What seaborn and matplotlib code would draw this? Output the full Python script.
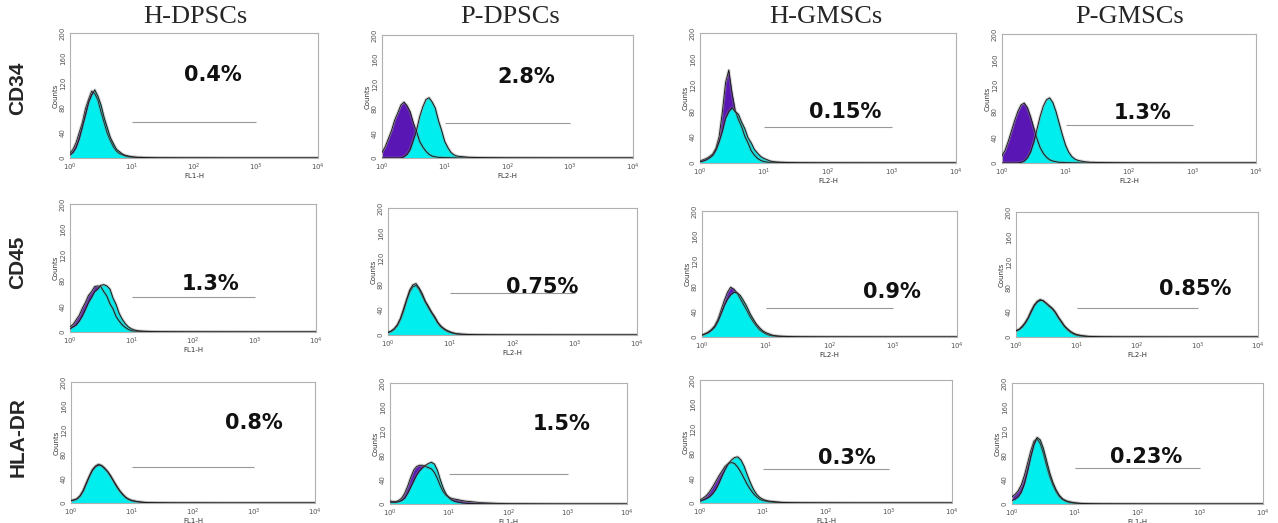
import numpy as np
import matplotlib
matplotlib.use("Agg")
import matplotlib.pyplot as plt
import seaborn as sns

# log10 fluorescence channel positions shared by every histogram
log_fl = [0.00, 0.05, 0.10, 0.15, 0.20, 0.25, 0.30, 0.35, 0.40, 0.45,
          0.50, 0.55, 0.60, 0.65, 0.70, 0.75, 0.80, 0.85, 0.90, 0.95,
          1.00, 1.05, 1.10, 1.15, 1.20, 1.25, 1.30, 1.35, 1.40, 1.45,
          1.50, 1.60, 1.80, 2.00, 2.50, 3.00, 4.00]

cell_types = ["H-DPSCs", "P-DPSCs", "H-GMSCs", "P-GMSCs"]
markers = ["CD34", "CD45", "HLA-DR"]
percent_labels = ["0.4%", "2.8%", "0.15%", "1.3%",
                  "1.3%", "0.75%", "0.9%", "0.85%",
                  "0.8%", "1.5%", "0.3%", "0.23%"]
channel_labels = ["FL1-H", "FL2-H", "FL2-H", "FL2-H",
                  "FL1-H", "FL2-H", "FL2-H", "FL2-H",
                  "FL1-H", "FL1-H", "FL1-H", "FL1-H"]
gate_counts = [58, 57, 55, 59,
               55, 66, 46, 46,
               60, 50, 55, 60]
gate_range = [10, 1000]

# CD34 (isotype control = purple, marker = cyan)
cd34_h_dpsc_iso = [8, 14, 25, 41, 57, 79, 94, 107, 103, 93, 74, 57, 40, 28, 18, 11, 7, 5, 3, 2,
                   1.5, 1, 1, 0.8, 0.6, 0.5, 0.4, 0.3, 0.3, 0.2, 0.2, 0.2, 0.1, 0.1, 0, 0, 0]
cd34_h_dpsc = [5, 9, 17, 31, 50, 69, 89, 101, 109, 99, 85, 65, 49, 33, 23, 14, 10, 6, 4, 3,
               2, 1.5, 1, 1, 0.8, 0.6, 0.5, 0.4, 0.3, 0.3, 0.2, 0.2, 0.1, 0.1, 0, 0, 0]
cd34_p_dpsc_iso = [9, 18, 31, 44, 61, 73, 86, 91, 85, 75, 57, 43, 27, 18, 11, 6, 3, 2, 1, 1,
                   0.5, 0.5, 0.3, 0.3, 0.2, 0.2, 0.1, 0.1, 0.1, 0.1, 0.1, 0, 0, 0, 0, 0, 0]
cd34_p_dpsc = [0, 0, 0, 0, 0, 0, 0, 2, 6, 14, 29, 45, 67, 83, 95, 98, 91, 81, 61, 45,
               27, 17, 9, 5, 3, 2.5, 2, 1.5, 1, 1, 0.8, 0.6, 0.4, 0.2, 0.1, 0, 0]
cd34_h_gmsc_iso = [3, 5, 7, 10, 14, 23, 41, 79, 124, 143, 108, 81, 67, 56, 41, 31, 19, 12, 7, 4,
                   2, 1.5, 1, 1, 0.8, 0.6, 0.5, 0.4, 0.3, 0.3, 0.2, 0.2, 0.1, 0.1, 0, 0, 0]
cd34_h_gmsc = [2, 3, 5, 8, 12, 20, 33, 49, 69, 79, 85, 79, 75, 63, 53, 39, 31, 21, 15, 10,
               7, 5, 3, 2, 1.5, 1.2, 1, 0.8, 0.6, 0.5, 0.4, 0.3, 0.2, 0.1, 0.1, 0, 0]
cd34_p_gmsc_iso = [11, 20, 34, 50, 66, 80, 90, 93, 86, 72, 55, 38, 24, 15, 9, 5, 3, 2, 1, 1,
                   0.5, 0.5, 0.3, 0.3, 0.2, 0.2, 0.1, 0.1, 0.1, 0.1, 0.1, 0, 0, 0, 0, 0, 0]
cd34_p_gmsc = [0, 0, 0, 0, 0, 0, 1, 3, 8, 17, 32, 52, 72, 88, 98, 101, 94, 80, 62, 44,
               28, 17, 10, 6, 4, 3, 2, 1.5, 1, 1, 0.8, 0.6, 0.4, 0.2, 0.1, 0, 0]

# CD45
cd45_h_dpsc_iso = [8, 12, 19, 26, 37, 46, 57, 63, 71, 72, 71, 63, 56, 44, 36, 24, 17, 11, 7, 4,
                   2, 1.5, 1, 0.8, 0.6, 0.5, 0.4, 0.3, 0.3, 0.2, 0.2, 0.2, 0.1, 0.1, 0, 0, 0]
cd45_h_dpsc = [5, 8, 11, 17, 25, 35, 46, 54, 63, 67, 73, 74, 72, 67, 53, 43, 29, 20, 13, 8,
               5, 3, 2, 1.5, 1.2, 1, 0.8, 0.6, 0.5, 0.4, 0.4, 0.3, 0.2, 0.1, 0.1, 0, 0]
cd45_p_dpsc_iso = [4, 6, 9, 15, 25, 38, 55, 68, 76, 78, 72, 62, 52, 43, 35, 27, 19, 13, 9, 6,
                   4, 3, 2, 1.5, 1, 0.8, 0.6, 0.5, 0.4, 0.3, 0.3, 0.2, 0.1, 0.1, 0, 0, 0]
cd45_p_dpsc = [4, 6, 10, 16, 26, 41, 56, 71, 79, 81, 74, 65, 53, 45, 36, 29, 20, 14, 10, 7,
               5, 3, 2, 1.5, 1.2, 1, 0.8, 0.6, 0.5, 0.4, 0.4, 0.3, 0.2, 0.1, 0.1, 0, 0]
cd45_h_gmsc_iso = [3, 5, 8, 12, 18, 28, 43, 58, 71, 79, 76, 70, 61, 52, 43, 33, 25, 18, 12, 8,
                   5, 3, 2, 1.5, 1, 0.8, 0.6, 0.5, 0.4, 0.3, 0.3, 0.2, 0.1, 0.1, 0, 0, 0]
cd45_h_gmsc = [3, 5, 7, 11, 16, 25, 37, 50, 60, 67, 71, 70, 66, 58, 49, 38, 29, 21, 15, 10,
               7, 5, 3, 2, 1.5, 1.2, 1, 0.8, 0.6, 0.5, 0.4, 0.3, 0.2, 0.1, 0.1, 0, 0]
cd45_p_gmsc_iso = [10, 12, 17, 23, 31, 42, 51, 57, 60, 58, 54, 49, 45, 39, 31, 24, 17, 12, 8, 5,
                   3, 2, 1.5, 1, 0.8, 0.6, 0.5, 0.4, 0.3, 0.3, 0.2, 0.2, 0.1, 0.1, 0, 0, 0]
cd45_p_gmsc = [10, 12, 16, 22, 30, 40, 50, 56, 59, 58, 54, 50, 46, 40, 32, 25, 18, 13, 9, 6,
               4, 3, 2, 1.5, 1, 0.8, 0.6, 0.5, 0.4, 0.3, 0.3, 0.2, 0.1, 0.1, 0, 0, 0]

# HLA-DR
hla_h_dpsc_iso = [4, 5, 7, 12, 21, 33, 44, 55, 61, 64, 62, 58, 52, 44, 36, 28, 20, 14, 9, 6,
                  4, 3, 2, 1.5, 1, 0.8, 0.6, 0.5, 0.4, 0.3, 0.3, 0.2, 0.1, 0.1, 0, 0, 0]
hla_h_dpsc = [4, 5, 7, 12, 20, 32, 44, 54, 60, 63, 62, 57, 52, 45, 36, 27, 20, 14, 9, 6,
              4, 3, 2, 1.5, 1, 0.8, 0.6, 0.5, 0.4, 0.3, 0.3, 0.2, 0.1, 0.1, 0, 0, 0]
hla_p_dpsc_iso = [5, 4, 4, 6, 10, 18, 30, 44, 56, 62, 64, 64, 62, 60, 58, 52, 42, 30, 20, 14,
                  11, 9, 8, 7, 6, 5, 4.5, 4, 3.5, 3, 2.5, 2, 1, 0.5, 0.2, 0, 0]
hla_p_dpsc = [3, 3, 3, 4, 6, 10, 18, 28, 38, 48, 55, 60, 64, 67, 69, 66, 56, 40, 26, 16,
              10, 6, 4, 3, 2, 1.5, 1, 0.8, 0.6, 0.5, 0.4, 0.3, 0.2, 0.1, 0, 0, 0]
hla_h_gmsc_iso = [5, 8, 12, 18, 26, 35, 44, 52, 60, 64, 66, 64, 58, 50, 40, 30, 22, 15, 10, 6,
                  4, 3, 2, 1.5, 1, 0.8, 0.6, 0.5, 0.4, 0.3, 0.3, 0.2, 0.1, 0.1, 0, 0, 0]
hla_h_gmsc = [3, 5, 7, 10, 15, 22, 32, 44, 55, 64, 70, 74, 75, 70, 60, 46, 33, 22, 14, 9,
              6, 4, 3, 2.5, 2, 1.5, 1, 0.8, 0.6, 0.5, 0.4, 0.3, 0.2, 0.1, 0, 0, 0]
hla_p_gmsc_iso = [12, 16, 22, 32, 48, 68, 88, 104, 108, 100, 84, 64, 46, 32, 21, 13, 8, 5, 3, 2,
                  1.5, 1, 0.8, 0.6, 0.5, 0.4, 0.3, 0.3, 0.2, 0.2, 0.2, 0.1, 0.1, 0, 0, 0, 0]
hla_p_gmsc = [6, 8, 12, 20, 34, 55, 78, 98, 110, 106, 92, 72, 52, 36, 24, 15, 9, 6, 4, 3,
              2, 1.5, 1, 0.8, 0.6, 0.5, 0.4, 0.3, 0.3, 0.2, 0.2, 0.2, 0.1, 0.1, 0, 0, 0]

iso_series = [cd34_h_dpsc_iso, cd34_p_dpsc_iso, cd34_h_gmsc_iso, cd34_p_gmsc_iso,
              cd45_h_dpsc_iso, cd45_p_dpsc_iso, cd45_h_gmsc_iso, cd45_p_gmsc_iso,
              hla_h_dpsc_iso, hla_p_dpsc_iso, hla_h_gmsc_iso, hla_p_gmsc_iso]
marker_series = [cd34_h_dpsc, cd34_p_dpsc, cd34_h_gmsc, cd34_p_gmsc,
                 cd45_h_dpsc, cd45_p_dpsc, cd45_h_gmsc, cd45_p_gmsc,
                 hla_h_dpsc, hla_p_dpsc, hla_h_gmsc, hla_p_gmsc]

# layout: axes boxes in pixels (left, top, right, bottom) and label spots (log10 x, counts)
W, H = 1278, 523
boxes = [(70, 33, 318, 158), (382, 35, 633, 158), (700, 33, 956, 163), (1002, 34, 1256, 163),
         (70, 204, 316, 332), (388, 208, 637, 335), (702, 211, 957, 337), (1016, 212, 1258, 337),
         (71, 382, 315, 503), (390, 383, 627, 504), (700, 380, 952, 503), (1012, 383, 1263, 504)]
label_spots = [(2.30, 133), (2.30, 132), (2.27, 78), (2.22, 78),
               (2.28, 75), (2.47, 75), (2.98, 71), (2.96, 77),
               (3.00, 132), (2.90, 132), (2.33, 73), (2.14, 78)]

sns.set_style("white")
plt.rcParams["font.family"] = ["DejaVu Sans"]

purple = "#5a16b4"
cyan = "#00eeee"
fl = 10 ** np.array(log_fl)

fig = plt.figure(figsize=(W / 100, H / 100), dpi=100)

for i, (l, t, r, b) in enumerate(boxes):
    ax = fig.add_axes([l / W, 1 - b / H, (r - l) / W, (b - t) / H])
    for counts, col in [(iso_series[i], purple), (marker_series[i], cyan)]:
        ax.fill_between(fl, 0, counts, color=col, lw=0, zorder=2)
        sns.lineplot(x=fl, y=counts, ax=ax, color="#888888", lw=2.2, alpha=0.35, zorder=3)
        sns.lineplot(x=fl, y=counts, ax=ax, color="#1a1a1a", lw=0.7, zorder=3)
    ax.set_xscale("log")
    ax.set_xlim(1, 1e4)
    ax.set_ylim(0, 200)
    ax.set_xticks([1, 10, 100, 1000, 10000])
    ax.xaxis.set_minor_locator(matplotlib.ticker.NullLocator())
    ax.set_yticks([0, 40, 80, 120, 160, 200])
    ax.tick_params(axis="both", labelsize=5, length=2, width=0.5, colors="#555555", pad=1)
    for lab in ax.get_yticklabels():
        lab.set_rotation(90)
        lab.set_va("center")
    ax.set_xlabel(channel_labels[i], fontsize=5, labelpad=0, color="#333333")
    ax.set_ylabel("Counts", fontsize=5, labelpad=1, color="#333333")
    for sp in ax.spines.values():
        sp.set_color("#b0b0b0")
        sp.set_linewidth(0.8)
    ax.hlines(gate_counts[i], gate_range[0], gate_range[1], color="#999999", lw=0.8, zorder=4)
    gx, gy = label_spots[i]
    ax.text(10 ** gx, gy, percent_labels[i], ha="center", va="center",
            fontsize=15, fontweight="bold", color="#111111", zorder=5)

# column titles and row labels
title_x = [195, 510, 826, 1130]
for name, x in zip(cell_types, title_x):
    fig.text(x / W, 1 - 17 / H, name, ha="center", va="center",
             fontsize=19, family="Liberation Serif")
row_y = [88, 262, 437]
for name, y in zip(markers, row_y):
    fig.text(18 / W, 1 - y / H, name, ha="center", va="center", rotation=90,
             fontsize=15, fontweight="bold", family="Liberation Sans")

fig.savefig("out.png", dpi=100)
